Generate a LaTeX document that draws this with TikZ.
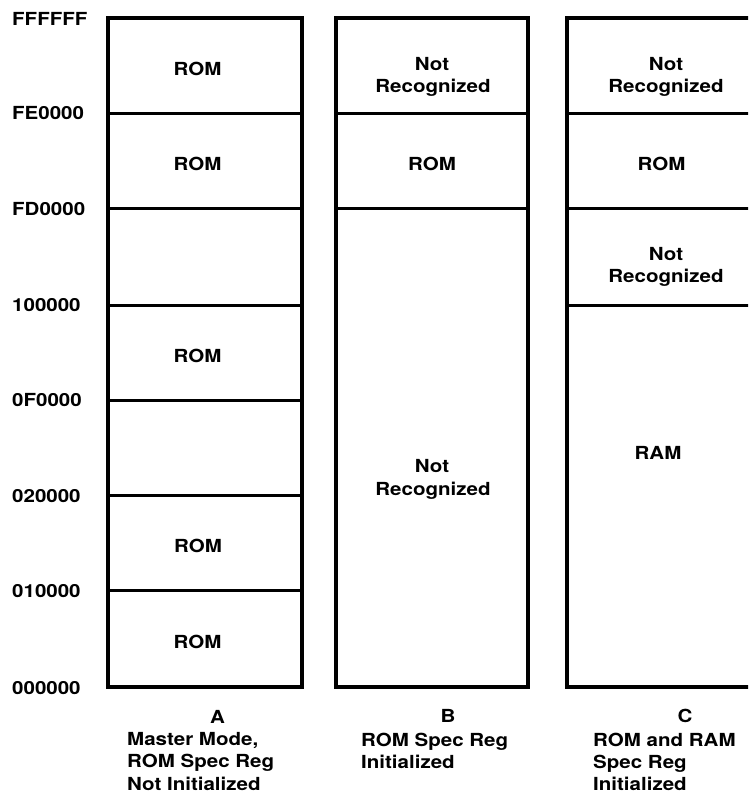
\documentclass[tikz,border=0pt]{standalone}
\usepackage{fontspec}
\setmainfont{TeX Gyre Heros}
\newfontfamily\hv[FakeStretch=1.14]{texgyreheros-bold.otf}
\begin{document}
\begin{tikzpicture}[x=1pt,y=-1pt,
  box/.style={draw=black,line width=3.2pt,line join=miter},
  sep/.style={draw=black,line width=3pt},
  lab/.style={font=\hv\fontsize{18}{22}\selectfont,inner sep=0pt,anchor=base},
  addr/.style={font=\hv\fontsize{18}{22}\selectfont,inner sep=0pt,anchor=base west},
  captext/.style={font=\hv\fontsize{18}{22}\selectfont,inner sep=0pt,anchor=base west}]
\useasboundingbox (0,0) rectangle (748,794);
\clip (0,0) rectangle (748,794);
% column A
\draw[box] (108,18) rectangle (302,687);
\foreach \yy in {114,209,305,400,495,590} \draw[sep] (108,\yy) -- (302,\yy);
% column B
\draw[box] (336,18) rectangle (528,687);
\foreach \yy in {114,209} \draw[sep] (336,\yy) -- (528,\yy);
% column C
\draw[box] (567,18) rectangle (762,687);
\foreach \yy in {114,209,305} \draw[sep] (567,\yy) -- (762,\yy);
% address labels
\node[addr] (a0) at (12,25.5) {FFFFFF};
\node[addr] (a1) at (12,119.5) {FE0000};
\node[addr] (a2) at (12,215.5) {FD0000};
\node[addr] (a3) at (12,311.5) {100000};
\node[addr] (a4) at (12,406.5) {0F0000};
\node[addr] (a5) at (12,502.5) {020000};
\node[addr] (a6) at (12,597.5) {010000};
\node[addr] (a7) at (12,694.5) {000000};
% column A texts
\node[lab] (ra1) at (197.5,76) {ROM};
\node[lab] (ra2) at (197.5,171) {ROM};
\node[lab] (ra3) at (197.5,362) {ROM};
\node[lab] (ra4) at (198,552.5) {ROM};
\node[lab] (ra5) at (197.5,648) {ROM};
% column B texts
\node[lab] (rb1a) at (432,70.5) {Not};
\node[lab] (rb1b) at (433,93) {Recognized};
\node[lab] (rb2) at (432,171) {ROM};
\node[lab] (rb3a) at (432,472.5) {Not};
\node[lab] (rb3b) at (433,495.5) {Recognized};
% column C texts
\node[lab] (rc1a) at (666,70.5) {Not};
\node[lab] (rc1b) at (666,92.5) {Recognized};
\node[lab] (rc2) at (661.5,171) {ROM};
\node[lab] (rc3a) at (666,260) {Not};
\node[lab] (rc3b) at (666,282) {Recognized};
\node[lab] (rc4) at (658,459.5) {RAM};
% captions
\node[lab] (ca) at (217.5,723) {A};
\node[captext] (ca1) at (127,745) {Master Mode,};
\node[captext] (ca2) at (127,767.5) {ROM Spec Reg};
\node[captext] (ca3) at (127,790) {Not Initialized};
\node[lab] (cb) at (448,722.5) {B};
\node[captext] (cb1) at (361,746) {ROM Spec Reg};
\node[captext] (cb2) at (361,768) {Initialized};
\node[lab] (cc) at (685,722.5) {C};
\node[captext] (cc1) at (593,746) {ROM and RAM};
\node[captext] (cc2) at (593,768.5) {Spec Reg};
\node[captext] (cc3) at (593,790.5) {Initialized};
\end{tikzpicture}
\end{document}
